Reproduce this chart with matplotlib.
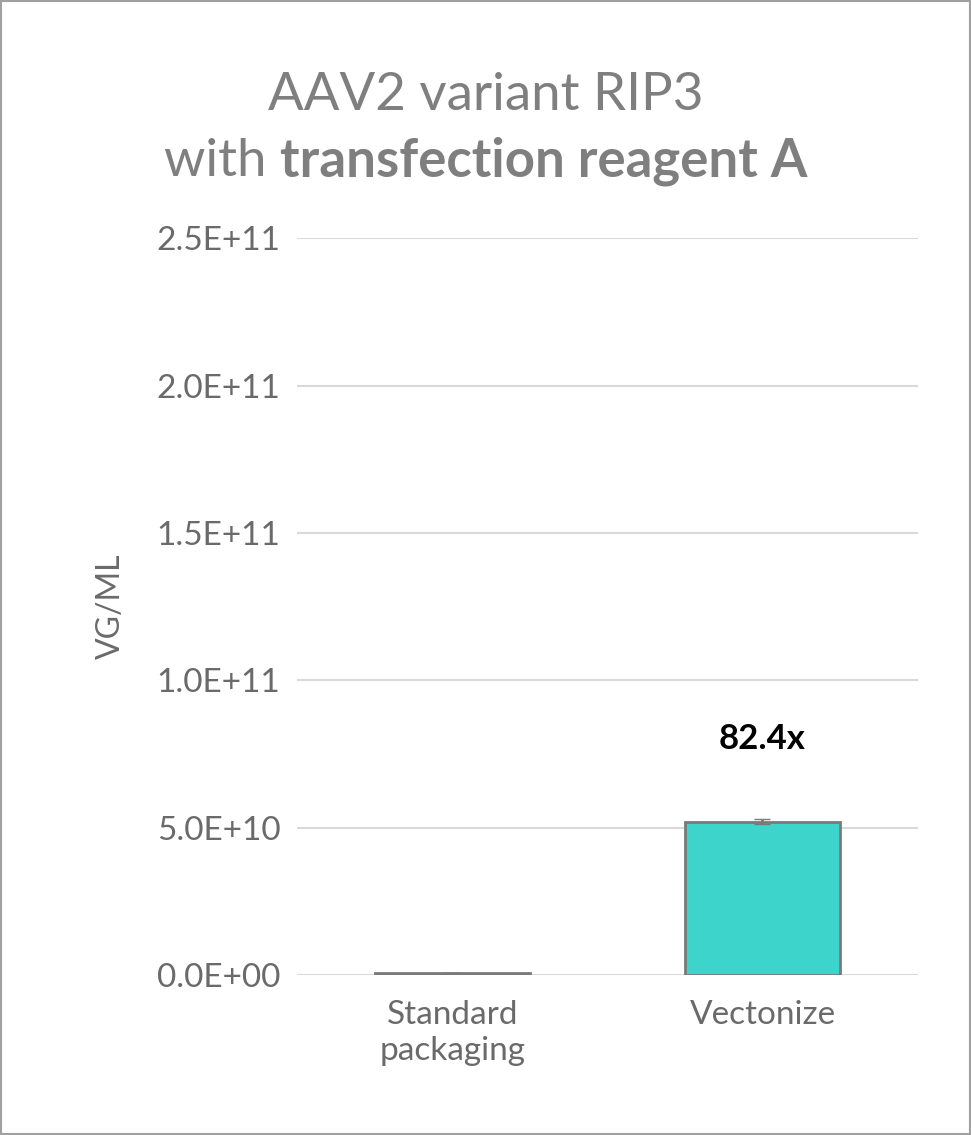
import matplotlib.pyplot as plt
from matplotlib.patches import Rectangle

categories = ["Standard\npackaging", "Vectonize"]
values = [6.3e8, 5.2e10]
errors = [0.0, 0.08e10]
fold_label = "82.4x"
fold_y = 8.0e10
yticks = [0, 5e10, 1e11, 1.5e11, 2e11, 2.5e11]
ytick_labels = ["0.0E+00", "5.0E+10", "1.0E+11", "1.5E+11", "2.0E+11", "2.5E+11"]

GRAY = "#7f7f7f"
plt.rcParams["font.family"] = ["Lato", "DejaVu Sans"]

fig = plt.figure(figsize=(9.71, 11.35), dpi=100)
fig.patches.append(Rectangle((0.001, 0.001), 0.998, 0.998, transform=fig.transFigure,
                             fill=False, edgecolor="#a0a0a0", linewidth=1.5))
ax = fig.add_axes([0.306, 0.141, 0.639, 0.649])

ax.bar(range(len(categories)), values, width=0.5, color="#3dd4cb",
       edgecolor="#7a7a7a", linewidth=2, zorder=3)
ax.errorbar(range(len(categories)), values, yerr=errors, fmt="none",
            ecolor="#7a7a7a", elinewidth=2, capsize=6, zorder=4)
ax.text(1, fold_y, fold_label, ha="center", va="center", fontsize=25,
        fontweight="bold", color="black")

ax.set_xlim(-0.5, 1.5)
ax.set_ylim(0, 2.5e11)
ax.set_yticks(yticks)
ax.set_yticklabels(ytick_labels)
ax.set_xticks(range(len(categories)))
ax.set_xticklabels(categories, linespacing=1.25)
ax.tick_params(axis="both", length=0, labelsize=24, labelcolor="#6a6a6a", pad=18)
ax.tick_params(axis="y", pad=12)
ax.grid(axis="y", color="#d9d9d9", linewidth=1.5, zorder=0)
for s in ax.spines.values():
    s.set_visible(False)
ax.set_ylabel("VG/ML", fontsize=23, color="#6a6a6a", labelpad=22)

fig.text(0.5, 0.916, "AAV2 variant RIP3", ha="center", va="center",
         fontsize=38, color=GRAY)
# second title line: normal + bold parts, centred together
fig.canvas.draw()
r = fig.canvas.get_renderer()
t1 = fig.text(0, 0.858, "with ", ha="left", va="center", fontsize=38, color=GRAY)
t2 = fig.text(0, 0.858, "transfection reagent A", ha="left", va="center",
              fontsize=38, color=GRAY, fontweight="bold")
w1 = t1.get_window_extent(r).width / fig.bbox.width
w2 = t2.get_window_extent(r).width / fig.bbox.width
x0 = 0.5 - (w1 + w2) / 2
t1.set_x(x0)
t2.set_x(x0 + w1)

fig.savefig("out.png", dpi=100, facecolor="white")
